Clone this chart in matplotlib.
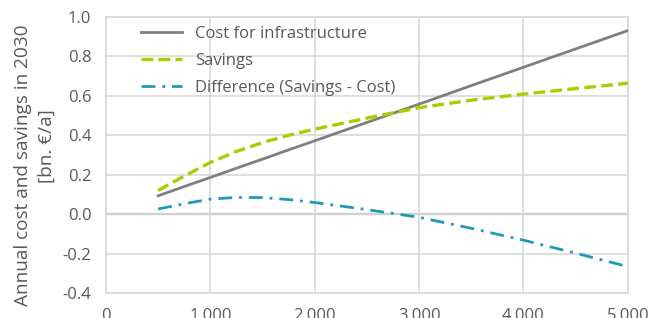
import matplotlib
matplotlib.use("Agg")
import matplotlib.pyplot as plt
from matplotlib.ticker import FuncFormatter

# values
x_vals = [500, 750, 1000, 1250, 1500, 1750, 2000, 2500, 3000, 3500, 4000, 4500, 5000]
cost = [0.093, 0.140, 0.186, 0.233, 0.279, 0.326, 0.372, 0.465, 0.558, 0.652, 0.745, 0.838, 0.931]
savings = [0.12, 0.193, 0.262, 0.318, 0.363, 0.400, 0.431, 0.487, 0.54, 0.578, 0.609, 0.637, 0.664]
difference = [0.026, 0.053, 0.076, 0.085, 0.084, 0.074, 0.059, 0.023, -0.016, -0.072, -0.132, -0.198, -0.266]

x_ticks = [0, 1000, 2000, 3000, 4000, 5000]
y_ticks = [-0.4, -0.2, 0.0, 0.2, 0.4, 0.6, 0.8, 1.0]

labels = ["Cost for infrastructure", "Savings", "Difference (Savings - Cost)"]
ylabel_lines = ["Annual cost and savings in 2030", "[bn. €/a]"]

plt.rcParams["font.family"] = ["Open Sans", "DejaVu Sans"]
text_col = "#595959"
grid_col = "#d9d9d9"

fig = plt.figure(figsize=(6.54, 3.18), dpi=100)
ax = fig.add_axes([0.162, 0.0786, 0.798, 0.868])

ax.plot(x_vals, cost, color="#7f7f7f", lw=2.0, label=labels[0], zorder=3)
ax.plot(x_vals, savings, color="#b2c800", lw=2.4, dashes=(3.5, 1.6),
        label=labels[1], zorder=3)
ax.plot(x_vals, difference, color="#1e9ab8", lw=2.0, dashes=(5, 2.5, 1, 2.5),
        label=labels[2], zorder=3)

ax.set_xlim(0, 5000)
ax.set_ylim(-0.4, 1.0)
ax.set_xticks(x_ticks)
ax.set_yticks(y_ticks)
ax.xaxis.set_major_formatter(FuncFormatter(lambda v, p: f"{int(v):,}"))
ax.yaxis.set_major_formatter(FuncFormatter(lambda v, p: f"{v:.1f}"))

ax.grid(True, color=grid_col, lw=1.2, zorder=0)
ax.axhline(0, color="#a6a6a6", lw=1.6, zorder=1)
for s in ax.spines.values():
    s.set_color(grid_col)
    s.set_linewidth(1.2)

ax.tick_params(axis="both", length=0, labelsize=12, colors=text_col)
ax.tick_params(axis="x", pad=10.5)
ax.tick_params(axis="y", pad=10.5)

# two-line axis title, each line placed like in the original
ax.text(-0.159, 0.464, ylabel_lines[0], transform=ax.transAxes, rotation=90,
        ha="center", va="center", fontsize=13.7, color=text_col)
ax.text(-0.113, 0.531, ylabel_lines[1], transform=ax.transAxes, rotation=90,
        ha="center", va="center", fontsize=13.7, color=text_col)

leg = ax.legend(loc="upper left", bbox_to_anchor=(0.067, 0.968), frameon=False,
                fontsize=12, handlelength=2.45, handletextpad=0.8,
                labelspacing=0.66, borderpad=0, borderaxespad=0)
for t in leg.get_texts():
    t.set_color(text_col)

fig.savefig("out.png", dpi=100)
